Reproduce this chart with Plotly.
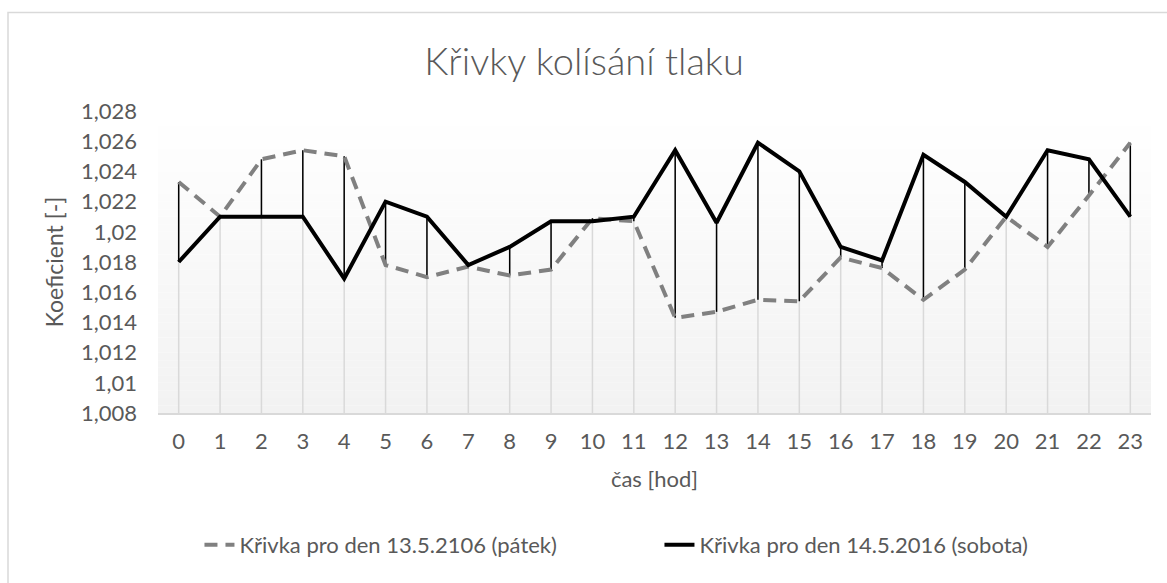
import plotly.graph_objects as go

hours = list(range(24))
patek = [1.0233, 1.0210, 1.0248, 1.0254, 1.0250, 1.0178, 1.0170, 1.0177, 1.0171, 1.0175,
         1.0209, 1.0207, 1.0143, 1.0147, 1.0155, 1.0154, 1.0183, 1.0176, 1.0155, 1.0175,
         1.0210, 1.0190, 1.0224, 1.0259]
sobota = [1.0180, 1.0210, 1.0210, 1.0210, 1.0169, 1.0220, 1.0210, 1.0178, 1.0190, 1.0207,
          1.0207, 1.0210, 1.0254, 1.0206, 1.0259, 1.0240, 1.0190, 1.0181, 1.0251, 1.0233,
          1.0210, 1.0254, 1.0248, 1.0210]
y_ticks = [1.008, 1.010, 1.012, 1.014, 1.016, 1.018, 1.020, 1.022, 1.024, 1.026, 1.028]
y_ticktext = ["1,008", "1,01", "1,012", "1,014", "1,016", "1,018", "1,02", "1,022", "1,024", "1,026", "1,028"]
name_patek = "Křivka pro den 13.5.2106 (pátek)"
name_sobota = "Křivka pro den 14.5.2016 (sobota)"

y_min, y_max = y_ticks[0], y_ticks[-1]
FONT = "Lato"
TXT = "#595959"

# drop lines (from highest point down to axis)
dx, dy = [], []
for h, a, b in zip(hours, patek, sobota):
    dx += [h, h, None]
    dy += [y_min, max(a, b), None]
# high-low lines
hx, hy = [], []
for h, a, b in zip(hours, patek, sobota):
    hx += [h, h, None]
    hy += [min(a, b), max(a, b), None]

fig = go.Figure()
fig.add_trace(go.Scatter(x=dx, y=dy, mode="lines", line=dict(color="#d9d9d9", width=1.5),
                         showlegend=False, hoverinfo="skip"))
fig.add_trace(go.Scatter(x=hx, y=hy, mode="lines", line=dict(color="#000000", width=1.5),
                         showlegend=False, hoverinfo="skip"))
fig.add_trace(go.Scatter(x=hours, y=patek, mode="lines", name=name_patek,
                         line=dict(color="#808080", width=4, dash="13px,8px")))
fig.add_trace(go.Scatter(x=hours, y=sobota, mode="lines", name=name_sobota,
                         line=dict(color="#000000", width=4)))

# gradient background of plot area
shapes = []
n = 40
for i in range(n):
    t = (i + 0.5) / n
    c = int(round(255 - (255 - 242) * t))
    shapes.append(dict(type="rect", xref="x domain", yref="y domain",
                       x0=0, x1=1, y0=1 - (i + 1) / n, y1=1 - i / n,
                       fillcolor=f"rgb({c},{c},{c})", line=dict(width=0), layer="below"))
# chart border
shapes.append(dict(type="rect", xref="paper", yref="paper",
                   x0=-150 / 993, x1=1.2, y0=-1, y1=(413 - 12.5) / 302,
                   line=dict(color="#d9d9d9", width=1.5), fillcolor="rgba(0,0,0,0)", layer="below"))

fig.update_layout(
    width=1167, height=583,
    margin=dict(l=158, r=16, t=111, b=170),
    paper_bgcolor="white", plot_bgcolor="white",
    font=dict(family=FONT, size=22, color=TXT),
    title=dict(text="Křivky kolísání tlaku", x=584 / 1167, xref="container", xanchor="center",
               y=1 - 62 / 583, yref="container", yanchor="middle",
               font=dict(size=38, color=TXT, family="Lato Light, Lato")),
    shapes=shapes,
    legend=dict(orientation="h", x=0.505, xanchor="center", y=-0.437, yanchor="middle",
                font=dict(size=22, color=TXT), bgcolor="rgba(0,0,0,0)",
                entrywidth=415, entrywidthmode="pixels"),
    xaxis=dict(range=[-0.5, 23.5], tickmode="array", tickvals=hours,
               ticktext=[str(h) for h in hours], showgrid=False, zeroline=False,
               showline=True, linecolor="#d9d9d9", linewidth=1.5, ticks="",
               tickfont=dict(size=22, color=TXT), ticklabelstandoff=8,
               title=dict(text="čas [hod]", standoff=18, font=dict(size=22, color=TXT))),
    yaxis=dict(range=[y_min, y_max], tickmode="array", tickvals=y_ticks, ticktext=y_ticktext,
               showgrid=False, zeroline=False, showline=False, ticks="",
               tickfont=dict(size=22, color=TXT), ticklabelstandoff=20,
               title=dict(text="Koeficient [-]", standoff=10, font=dict(size=23, color=TXT))),
)

fig.write_html("out.html", config={"displayModeBar": False},
               post_script="document.body.style.margin='0';document.body.style.overflow='hidden';")
